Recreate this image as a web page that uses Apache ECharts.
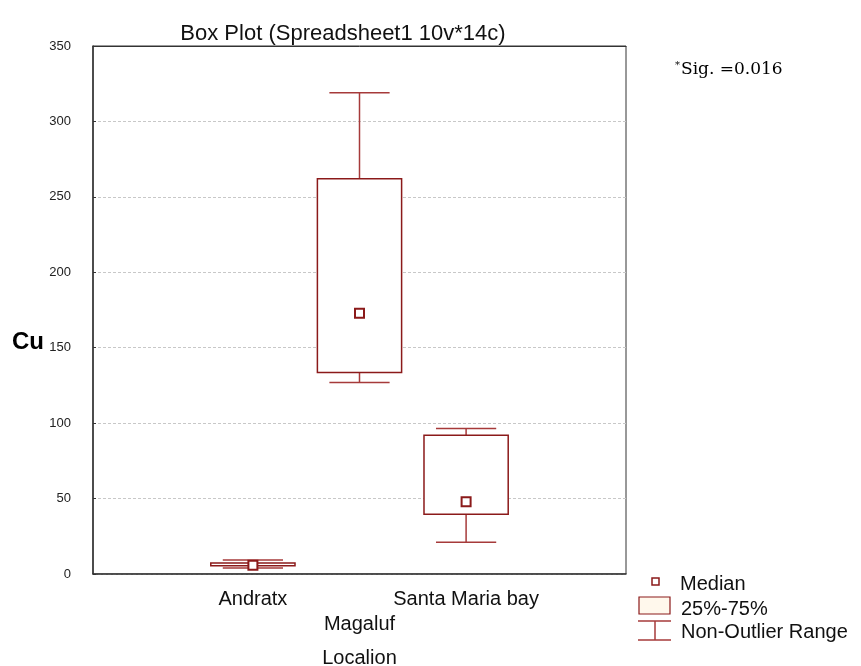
<!DOCTYPE html>
<html>
<head>
<meta charset="utf-8">
<script src="https://cdn.jsdelivr.net/npm/echarts@6/dist/echarts.min.js"></script>
<style>
  html, body { margin: 0; padding: 0; background: #fff; }
  #chart { width: 861px; height: 666px; }
</style>
</head>
<body>
<div id="chart"></div>
<script>
// Cu concentration by location: non-outlier range, quartile box and median
const locations = ['Andratx', 'Magaluf', 'Santa Maria bay'];
const nonOutlierMin = [4.0, 127, 21];
const q25 = [5.5, 133.5, 39.6];
const medianVals = [5.8, 172.8, 47.9];
const q75 = [7.3, 262, 91.9];
const nonOutlierMax = [9.3, 319, 96.5];
const yTicks = { min: 0, max: 350, step: 50 };

// empty slots on each side keep the outer ticks of the category axis
const categories = [''].concat(locations, ['']);
const boxData = locations.map((name, i) => [
  i + 1, nonOutlierMin[i], q25[i], medianVals[i], q75[i], nonOutlierMax[i]
]);

const RED = '#8B1A1A';
const WHISKER = '#A63A3A';
const FONT = 'Liberation Sans, Arial, sans-serif';

function renderBox(params, api) {
  const x = api.value(0);
  const lo = api.coord([x, api.value(1)]);
  const q1 = api.coord([x, api.value(2)]);
  const md = api.coord([x, api.value(3)]);
  const q3 = api.coord([x, api.value(4)]);
  const hi = api.coord([x, api.value(5)]);
  const band = api.size([1, 0])[0];
  const boxW = band * 0.79;
  const capW = band * 0.565;
  const cx = lo[0];
  const lineStyle = { stroke: WHISKER, lineWidth: 1.5 };
  const m = 9;
  return {
    type: 'group',
    children: [
      { type: 'line', shape: { x1: cx, y1: hi[1], x2: cx, y2: q3[1] }, style: lineStyle },
      { type: 'line', shape: { x1: cx, y1: q1[1], x2: cx, y2: lo[1] }, style: lineStyle },
      { type: 'line', shape: { x1: cx - capW / 2, y1: hi[1], x2: cx + capW / 2, y2: hi[1] }, style: lineStyle },
      { type: 'line', shape: { x1: cx - capW / 2, y1: lo[1], x2: cx + capW / 2, y2: lo[1] }, style: lineStyle },
      { type: 'rect', shape: { x: cx - boxW / 2, y: q3[1], width: boxW, height: q1[1] - q3[1] },
        style: { fill: '#fff', stroke: RED, lineWidth: 1.5 } },
      { type: 'rect', shape: { x: md[0] - m / 2, y: md[1] - m / 2, width: m, height: m },
        style: { fill: '#fff', stroke: RED, lineWidth: 2 } }
    ]
  };
}

const chart = echarts.init(document.getElementById('chart'), null, { renderer: 'canvas' });

chart.setOption({
  animation: false,
  backgroundColor: '#fff',
  grid: {
    left: 93, right: 235, top: 46, bottom: 92,
    containLabel: false, outerBoundsMode: 'none',
    show: true, borderColor: '#333', borderWidth: 1
  },
  xAxis: [{
    type: 'category',
    data: categories,
    position: 'bottom',
    axisLine: { lineStyle: { color: '#333', width: 1.5 } },
    axisTick: { alignWithLabel: true, inside: true, length: 4, lineStyle: { color: '#333' } },
    axisLabel: {
      color: '#111', fontFamily: FONT, fontSize: 20, margin: 13, lineHeight: 25,
      interval: 0,
      formatter: (v, i) => (i === 2 ? '\n' + v : v)
    },
    name: 'Localion',
    nameLocation: 'middle',
    nameGap: 74,
    nameTextStyle: { color: '#111', fontFamily: FONT, fontSize: 20 },
    splitLine: { show: false }
  }, {
    type: 'category',
    data: categories,
    position: 'top',
    axisLine: { lineStyle: { color: '#333', width: 1 } },
    axisTick: { alignWithLabel: true, inside: true, length: 4, lineStyle: { color: '#333' } },
    axisLabel: { show: false },
    splitLine: { show: false }
  }],
  yAxis: {
    type: 'value',
    min: yTicks.min,
    max: yTicks.max,
    interval: yTicks.step,
    axisLine: { show: true, lineStyle: { color: '#333', width: 1.5 } },
    axisTick: { show: true, inside: true, length: 3, lineStyle: { color: '#333' } },
    axisLabel: { color: '#222', fontFamily: FONT, fontSize: 13, margin: 22 },
    splitLine: { show: true, lineStyle: { color: '#c8c8c8', type: [3, 2], width: 1 } }
  },
  series: [{
    type: 'custom',
    xAxisIndex: 0,
    renderItem: renderBox,
    encode: { x: 0, y: [1, 2, 3, 4, 5] },
    data: boxData,
    z: 5
  }],
  graphic: [
    { type: 'text', x: 343, y: 34,
      style: { text: 'Box Plot (Spreadsheet1 10v*14c)', fill: '#111', font: '22px ' + FONT,
               textAlign: 'center', textVerticalAlign: 'middle' } },
    { type: 'text', x: 12, y: 342,
      style: { text: 'Cu', fill: '#000', font: 'bold 24px ' + FONT, textVerticalAlign: 'middle' } },
    { type: 'text', x: 675, y: 70,
      style: {
        text: '{s|*}{n|Sig. =0.016}',
        textVerticalAlign: 'middle',
        rich: {
          s: { fontSize: 10, fontFamily: 'DejaVu Serif, serif', fill: '#000', padding: [0, 1, 9, 0] },
          n: { fontSize: 17, fontFamily: 'DejaVu Serif, serif', fill: '#000' }
        }
      } },
    // legend: median marker
    { type: 'rect', shape: { x: 652, y: 578, width: 7, height: 7 },
      style: { fill: '#fff', stroke: RED, lineWidth: 1.5 } },
    { type: 'text', x: 680, y: 584,
      style: { text: 'Median', fill: '#111', font: '20px ' + FONT, textVerticalAlign: 'middle' } },
    // legend: quartile box
    { type: 'rect', shape: { x: 639, y: 597, width: 31, height: 17 },
      style: { fill: '#FFF8EC', stroke: RED, lineWidth: 1.2 } },
    { type: 'text', x: 681, y: 609,
      style: { text: '25%-75%', fill: '#111', font: '20px ' + FONT, textVerticalAlign: 'middle' } },
    // legend: non-outlier range
    { type: 'line', shape: { x1: 638, y1: 621, x2: 671, y2: 621 }, style: { stroke: WHISKER, lineWidth: 1.5 } },
    { type: 'line', shape: { x1: 638, y1: 640, x2: 671, y2: 640 }, style: { stroke: WHISKER, lineWidth: 1.5 } },
    { type: 'line', shape: { x1: 655, y1: 621, x2: 655, y2: 640 }, style: { stroke: WHISKER, lineWidth: 1.5 } },
    { type: 'text', x: 681, y: 632,
      style: { text: 'Non-Outlier Range', fill: '#111', font: '20px ' + FONT, textVerticalAlign: 'middle' } }
  ]
});
</script>
</body>
</html>
